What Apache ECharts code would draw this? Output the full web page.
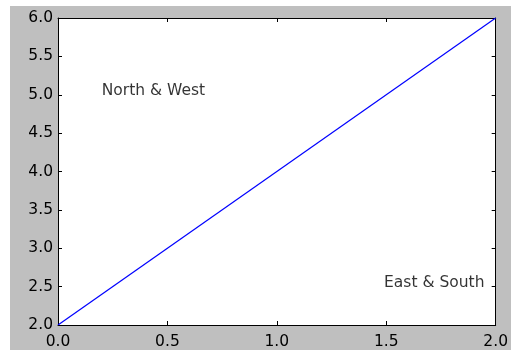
<!DOCTYPE html>
<html>
<head>
<meta charset="utf-8">
<script src="https://cdn.jsdelivr.net/npm/echarts@6/dist/echarts.min.js"></script>
<style>
  html, body { margin: 0; padding: 0; background: #ffffff; }
  #chart { position: absolute; left: 10px; top: 6px; width: 501px; height: 344px; }
</style>
</head>
<body>
<div id="chart"></div>
<script>
// Straight line from (0, 2) to (2, 6)
const xValues = [0, 2];
const yValues = [2, 6];

// Annotation texts placed in data coordinates
const noteTexts = ['North & West', 'East & South'];
const noteX = [0.2, 1.49];
const noteY = [5.0, 2.5];

// Axis ranges and tick steps
const xRange = [0, 2];
const xStep = 0.5;
const yRange = [2, 6];
const yStep = 0.5;

const font = 'DejaVu Sans';
const fontSize = 15.5;

const lineData = xValues.map((x, i) => [x, yValues[i]]);
const noteData = noteTexts.map((t, i) => ({ value: [noteX[i], noteY[i]], name: t }));

function baseAxis(extra) {
  return Object.assign({
    type: 'value',
    splitLine: { show: false },
    axisLine: { show: true, onZero: false, lineStyle: { color: '#000', width: 1 } },
    axisTick: { show: true, inside: true, length: 4, lineStyle: { color: '#000', width: 1 } }
  }, extra);
}

const chart = echarts.init(document.getElementById('chart'), null, { renderer: 'canvas' });
chart.setOption({
  backgroundColor: '#bfbfbf',
  animation: false,
  grid: { left: 48, top: 12, right: 15, bottom: 24, show: true, backgroundColor: '#ffffff', borderWidth: 0 },
  xAxis: [
    baseAxis({
      position: 'bottom', min: xRange[0], max: xRange[1], interval: xStep,
      axisLabel: {
        show: true, margin: 9, color: '#000', fontFamily: font, fontSize: fontSize,
        showMinLabel: true, showMaxLabel: true, hideOverlap: false,
        formatter: v => v.toFixed(1)
      }
    }),
    baseAxis({
      position: 'top', min: xRange[0], max: xRange[1], interval: xStep,
      axisLabel: { show: false }
    })
  ],
  yAxis: [
    baseAxis({
      position: 'left', min: yRange[0], max: yRange[1], interval: yStep,
      axisLabel: {
        show: true, margin: 5, color: '#000', fontFamily: font, fontSize: fontSize,
        showMinLabel: true, showMaxLabel: true, hideOverlap: false,
        formatter: v => v.toFixed(1)
      }
    }),
    baseAxis({
      position: 'right', min: yRange[0], max: yRange[1], interval: yStep,
      axisLabel: { show: false }
    })
  ],
  series: [
    {
      type: 'line',
      xAxisIndex: 0, yAxisIndex: 0,
      data: lineData,
      showSymbol: false,
      symbol: 'none',
      lineStyle: { color: '#0000ff', width: 1.2 },
      silent: true
    },
    {
      type: 'scatter',
      xAxisIndex: 0, yAxisIndex: 0,
      data: noteData,
      symbolSize: 0,
      silent: true,
      label: {
        show: true,
        position: [0, 4],
        align: 'left',
        verticalAlign: 'bottom',
        color: '#000',
        fontFamily: font,
        fontSize: fontSize,
        formatter: p => p.name
      }
    }
  ]
});
</script>
</body>
</html>
